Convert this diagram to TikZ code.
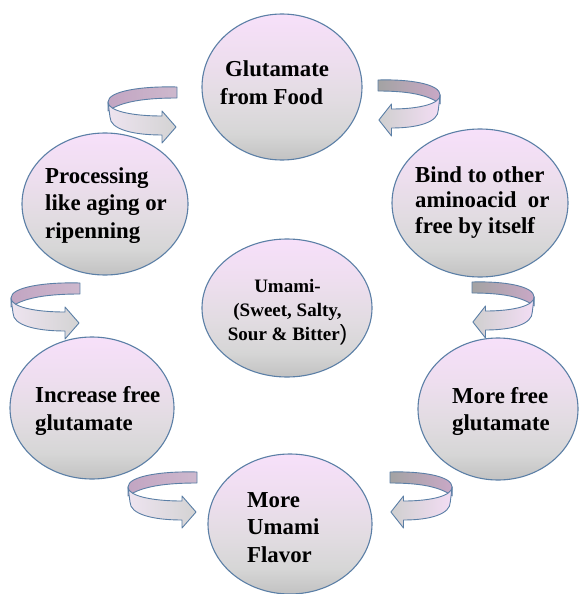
\documentclass[tikz,border=0pt]{standalone}
\usepackage{fontspec}
\setmainfont{Liberation Serif}
\newfontfamily\parenfont{Liberation Sans}
\usetikzlibrary{shapes.geometric}
\definecolor{edge}{HTML}{5B7FA6}
\definecolor{elltop}{HTML}{F7E0FA}
\definecolor{ellpink}{HTML}{EEDEEF}
\definecolor{ellmid}{HTML}{E2DCE2}
\definecolor{ellgray}{HTML}{D6D6D6}
\definecolor{ellbot}{HTML}{C2C2C2}
\definecolor{mauveA}{HTML}{C2A5C2}
\definecolor{mauveB}{HTML}{CDB8CD}
\definecolor{lavA}{HTML}{EEE4F0}
\definecolor{grayA}{HTML}{D3D3D3}
\definecolor{grayB}{HTML}{A3A3A3}
\definecolor{grayC}{HTML}{CFCFCF}
\definecolor{mauveC}{HTML}{C9A8C6}
\definecolor{pinkC}{HTML}{F3DDF4}
\pgfdeclareverticalshading{bubbleshade}{100bp}{color(0bp)=(ellbot); color(25bp)=(ellbot); color(34bp)=(ellgray); color(46bp)=(ellmid); color(60bp)=(ellpink); color(75bp)=(elltop); color(100bp)=(elltop)}
\newcommand{\swirl}[7]{%
  \begin{scope}[shift={(#1,#2)}, xscale=#3]
    \path[bandline, left color=#4, right color=#5]
      (0,0) .. controls (-35,-1) and (-69,4) .. (-69,15) -- (-69,24)
      .. controls (-55,14) and (-30,11) .. (0,11) -- cycle;
    \path[bandline, left color=#6, right color=#7]
      (-69,15) .. controls (-69,24) and (-45,29) .. (-15,29) -- (-15,24) -- (-1,40)
      -- (-15,56) -- (-15,48) .. controls (-45,48) and (-67,42) .. (-67,30) -- cycle;
  \end{scope}}
\begin{document}
\begin{tikzpicture}[x=1pt, y=-1pt,
  bubble/.style={ellipse, draw=edge, line width=1.1pt, shading=bubbleshade, inner sep=0pt},
  txt/.style={font=\bfseries\fontsize{22.8}{27.5}\selectfont, align=left, anchor=base west, inner sep=0pt},
  ctxt/.style={font=\bfseries\fontsize{19}{24}\selectfont, align=center, anchor=base, inner sep=0pt},
  bandline/.style={draw=edge, line width=0.9pt, line join=round}]
\useasboundingbox (0,0) rectangle (578,594);
\fill[white] (0,0) rectangle (578,594);

% circular arrows
\swirl{177}{87}{1}{mauveA}{mauveB}{lavA}{grayA}
\swirl{80}{283}{1}{mauveA}{mauveB}{lavA}{grayA}
\swirl{197}{472}{1}{mauveA}{mauveB}{lavA}{grayA}
\swirl{378}{80}{-0.9}{grayB}{mauveC}{grayC}{pinkC}
\swirl{472}{282}{-0.9}{grayB}{mauveC}{grayC}{pinkC}
\swirl{390}{472}{-0.9}{grayB}{mauveC}{grayC}{pinkC}

% bubbles
\node[bubble, minimum width=160pt, minimum height=146pt] (e1) at (282,87) {};
\node[bubble, minimum width=166pt, minimum height=142pt] (e2) at (105,204) {};
\node[bubble, minimum width=176pt, minimum height=148pt] (e3) at (480,203) {};
\node[bubble, minimum width=170pt, minimum height=138pt] (e4) at (287,308) {};
\node[bubble, minimum width=164pt, minimum height=142pt] (e5) at (92,408) {};
\node[bubble, minimum width=160pt, minimum height=142pt] (e6) at (498,409) {};
\node[bubble, minimum width=164pt, minimum height=140pt] (e7) at (290,524) {};

% texts (base anchor = last line's baseline)
\node[txt] (t1) at (220,104) {\hspace*{5pt}Glutamate\\from Food};
\node[txt] (t2) at (45,238) {Processing\\like aging or\\ripenning};
\node[txt, font=\bfseries\fontsize{22.8}{25.5}\selectfont] (t3) at (415,233) {Bind to other\\aminoacid~ or\\free by itself};
\node[ctxt] (t4) at (287.5,340) {Umami-\\(Sweet, Salty,\\Sour \& Bitter{\mdseries\parenfont\fontsize{22}{24}\selectfont )}};
\node[txt] (t5) at (35,430) {Increase free\\glutamate};
\node[txt, font=\bfseries\fontsize{22.8}{27}\selectfont] (t6) at (452,430) {More free\\glutamate};
\node[txt] (t7) at (247,562) {More\\Umami\\Flavor};
\end{tikzpicture}
\end{document}
